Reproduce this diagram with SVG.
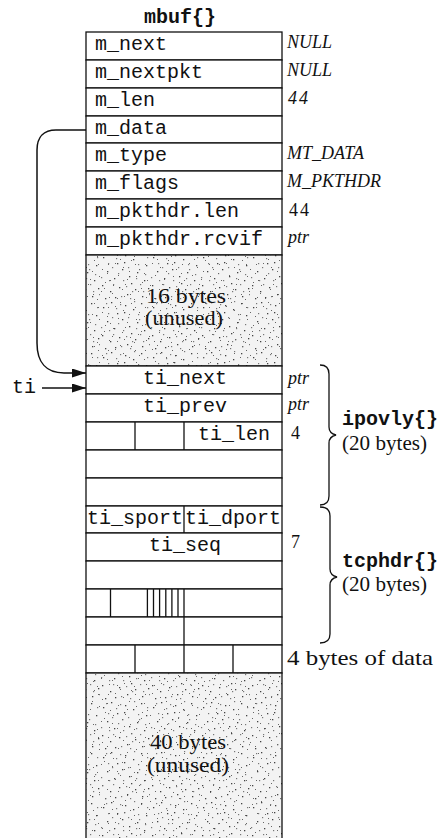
<svg xmlns="http://www.w3.org/2000/svg" width="439" height="838" viewBox="0 0 439 838">
<style>
.cell{fill:#fff;stroke:#111;stroke-width:1.3}
.shade{stroke:#111;stroke-width:1.3}
.ln{stroke:#111;stroke-width:1.3;fill:none}
.mono{font-family:"Liberation Mono","Courier New",monospace;font-size:20px;fill:#111}
.bold{font-weight:bold}
.it{font-family:"Liberation Serif","Times New Roman",serif;font-style:italic;font-size:18px;fill:#111}
.num{font-family:"Liberation Serif","Times New Roman",serif;font-size:18px;fill:#111}
.ser{font-family:"Liberation Serif","Times New Roman",serif;font-size:21px;fill:#111}
.mid{text-anchor:middle}
.conn{stroke:#111;stroke-width:1.5;fill:none}
</style>
<defs>
<pattern id="dotsA" width="50" height="50" patternUnits="userSpaceOnUse">
<g fill="#444">
<rect x="3" y="7" width="1.3" height="1.3"/><rect x="11" y="2" width="1.3" height="1.3"/><rect x="17" y="13" width="1.3" height="1.3"/><rect x="25" y="5" width="1.3" height="1.3"/><rect x="33" y="9" width="1.3" height="1.3"/><rect x="41" y="3" width="1.3" height="1.3"/><rect x="46" y="15" width="1.3" height="1.3"/><rect x="7" y="21" width="1.3" height="1.3"/><rect x="14" y="28" width="1.3" height="1.3"/><rect x="22" y="19" width="1.3" height="1.3"/><rect x="29" y="26" width="1.3" height="1.3"/><rect x="37" y="22" width="1.3" height="1.3"/><rect x="44" y="30" width="1.3" height="1.3"/><rect x="2" y="35" width="1.3" height="1.3"/><rect x="10" y="41" width="1.3" height="1.3"/><rect x="19" y="37" width="1.3" height="1.3"/><rect x="27" y="44" width="1.3" height="1.3"/><rect x="35" y="39" width="1.3" height="1.3"/><rect x="42" y="46" width="1.3" height="1.3"/><rect x="48" y="38" width="1.3" height="1.3"/><rect x="5" y="48" width="1.3" height="1.3"/><rect x="15" y="47" width="1.3" height="1.3"/><rect x="31" y="33" width="1.3" height="1.3"/><rect x="24" y="12" width="1.3" height="1.3"/>
</g>
<g fill="#777">
<rect x="38" y="14" width="1.2" height="1.2"/><rect x="8" y="13" width="1.2" height="1.2"/><rect x="20" y="4" width="1.2" height="1.2"/><rect x="45" y="24" width="1.2" height="1.2"/><rect x="13" y="34" width="1.2" height="1.2"/><rect x="30" y="48" width="1.2" height="1.2"/><rect x="40" y="34" width="1.2" height="1.2"/><rect x="1" y="27" width="1.2" height="1.2"/><rect x="26" y="36" width="1.2" height="1.2"/><rect x="34" y="1" width="1.2" height="1.2"/><rect x="47" y="7" width="1.2" height="1.2"/><rect x="18" y="23" width="1.2" height="1.2"/><rect x="9" y="30" width="1.2" height="1.2"/><rect x="36" y="28" width="1.2" height="1.2"/><rect x="43" y="41" width="1.2" height="1.2"/><rect x="21" y="46" width="1.2" height="1.2"/><rect x="6" y="3" width="1.2" height="1.2"/><rect x="28" y="17" width="1.2" height="1.2"/><rect x="39" y="19" width="1.2" height="1.2"/><rect x="12" y="17" width="1.2" height="1.2"/><rect x="32" y="41" width="1.2" height="1.2"/><rect x="16" y="8" width="1.2" height="1.2"/><rect x="23" y="30" width="1.2" height="1.2"/><rect x="49" y="44" width="1.2" height="1.2"/>
</g>
</pattern>
<pattern id="dotsB" width="37" height="43" patternUnits="userSpaceOnUse">
<g fill="#666">
<rect x="4" y="5" width="1" height="1"/><rect x="12" y="9" width="1" height="1"/><rect x="20" y="2" width="1" height="1"/><rect x="28" y="11" width="1" height="1"/><rect x="34" y="6" width="1" height="1"/><rect x="7" y="17" width="1" height="1"/><rect x="16" y="21" width="1" height="1"/><rect x="25" y="18" width="1" height="1"/><rect x="31" y="24" width="1" height="1"/><rect x="2" y="27" width="1" height="1"/><rect x="11" y="31" width="1" height="1"/><rect x="19" y="36" width="1" height="1"/><rect x="27" y="33" width="1" height="1"/><rect x="35" y="39" width="1" height="1"/><rect x="6" y="40" width="1" height="1"/><rect x="14" y="26" width="1" height="1"/><rect x="23" y="41" width="1" height="1"/><rect x="33" y="15" width="1" height="1"/><rect x="9" y="1" width="1" height="1"/><rect x="30" y="30" width="1" height="1"/><rect x="18" y="13" width="1" height="1"/><rect x="1" y="35" width="1" height="1"/><rect x="24" y="6" width="1" height="1"/><rect x="36" y="22" width="1" height="1"/><rect x="13" y="38" width="1" height="1"/>
</g>
</pattern>
<marker id="ah" markerUnits="userSpaceOnUse" markerWidth="15" markerHeight="10" refX="14" refY="4.5" orient="auto">
<path d="M0,0 L14,4.5 L0,9 z" fill="#111"/>
</marker>
</defs>

<rect width="439" height="838" fill="#fff"/>

<g id="title"><text class="mono bold mid" x="180" y="23">mbuf{}</text></g>

<g id="m_next"><rect class="cell" x="86" y="32" width="196" height="28"/><text class="mono" x="95" y="50">m_next</text><text class="it" x="287" y="48">NULL</text></g>
<g id="m_nextpkt"><rect class="cell" x="86" y="60" width="196" height="28"/><text class="mono" x="95" y="78">m_nextpkt</text><text class="it" x="287" y="76">NULL</text></g>
<g id="m_len"><rect class="cell" x="86" y="88" width="196" height="28"/><text class="mono" x="95" y="106">m_len</text><text class="it" x="288" y="104" letter-spacing="2">44</text></g>
<g id="m_data"><rect class="cell" x="86" y="116" width="196" height="27"/><text class="mono" x="95" y="134">m_data</text></g>
<g id="m_type"><rect class="cell" x="86" y="143" width="196" height="28"/><text class="mono" x="95" y="161">m_type</text><text class="it" x="287" y="159">MT_DATA</text></g>
<g id="m_flags"><rect class="cell" x="86" y="171" width="196" height="28"/><text class="mono" x="95" y="189">m_flags</text><text class="it" x="287" y="187">M_PKTHDR</text></g>
<g id="m_pkthdr_len"><rect class="cell" x="86" y="199" width="196" height="28"/><text class="mono" x="95" y="217">m_pkthdr.len</text><text class="num" x="289" y="216" letter-spacing="2">44</text></g>
<g id="m_pkthdr_rcvif"><rect class="cell" x="86" y="227" width="196" height="28"/><text class="mono" x="95" y="245">m_pkthdr.rcvif</text><text class="it" x="288" y="243">ptr</text></g>

<g id="unused16">
<rect x="86" y="255" width="196" height="111" fill="#f3f3f3"/>
<rect x="86" y="255" width="196" height="111" fill="url(#dotsA)"/>
<rect x="86" y="255" width="196" height="111" fill="url(#dotsB)"/>
<rect class="shade" x="86" y="255" width="196" height="111" fill="none"/>
<text class="ser mid" x="186" y="303" textLength="80" lengthAdjust="spacingAndGlyphs">16 bytes</text>
<text class="ser mid" x="184" y="325" textLength="78" lengthAdjust="spacingAndGlyphs">(unused)</text>
</g>

<g id="ti_next"><rect class="cell" x="86" y="366" width="196" height="28"/><text class="mono mid" x="185" y="384">ti_next</text><text class="it" x="288" y="384">ptr</text></g>
<g id="ti_prev"><rect class="cell" x="86" y="394" width="196" height="28"/><text class="mono mid" x="185" y="412">ti_prev</text><text class="it" x="288" y="410">ptr</text></g>
<g id="ti_len"><rect class="cell" x="86" y="422" width="196" height="28"/><line class="ln" x1="135" y1="422" x2="135" y2="450"/><line class="ln" x1="184" y1="422" x2="184" y2="450"/><text class="mono mid" x="234" y="440">ti_len</text><text class="num" x="291" y="439">4</text></g>
<g id="ip_w3"><rect class="cell" x="86" y="450" width="196" height="28"/></g>
<g id="ip_w4"><rect class="cell" x="86" y="478" width="196" height="28"/></g>
<g id="ti_ports"><rect class="cell" x="86" y="506" width="196" height="27"/><line class="ln" x1="184" y1="506" x2="184" y2="533"/><text class="mono mid" x="135" y="524">ti_sport</text><text class="mono mid" x="233" y="524">ti_dport</text></g>
<g id="ti_seq"><rect class="cell" x="86" y="533" width="196" height="28"/><text class="mono mid" x="185" y="551">ti_seq</text><text class="num" x="291" y="548">7</text></g>
<g id="ti_ack"><rect class="cell" x="86" y="561" width="196" height="28"/></g>
<g id="ti_flags"><rect class="cell" x="86" y="589" width="196" height="28"/>
<line class="ln" x1="110.5" y1="589" x2="110.5" y2="617"/>
<line class="ln" x1="147.4" y1="589" x2="147.4" y2="617"/>
<line class="ln" x1="153.5" y1="589" x2="153.5" y2="617"/>
<line class="ln" x1="159.6" y1="589" x2="159.6" y2="617"/>
<line class="ln" x1="165.8" y1="589" x2="165.8" y2="617"/>
<line class="ln" x1="171.9" y1="589" x2="171.9" y2="617"/>
<line class="ln" x1="178" y1="589" x2="178" y2="617"/>
<line class="ln" x1="184" y1="589" x2="184" y2="617"/>
</g>
<g id="ti_sum"><rect class="cell" x="86" y="617" width="196" height="28"/><line class="ln" x1="184" y1="617" x2="184" y2="645"/></g>
<g id="data4"><rect class="cell" x="86" y="645" width="196" height="28"/><line class="ln" x1="135" y1="645" x2="135" y2="673"/><line class="ln" x1="184" y1="645" x2="184" y2="673"/><line class="ln" x1="233" y1="645" x2="233" y2="673"/><text class="ser" x="287" y="665" textLength="146" lengthAdjust="spacingAndGlyphs">4 bytes of data</text></g>

<g id="unused40">
<rect x="86" y="673" width="196" height="170" fill="#f3f3f3"/>
<rect x="86" y="673" width="196" height="170" fill="url(#dotsA)"/>
<rect x="86" y="673" width="196" height="170" fill="url(#dotsB)"/>
<rect class="shade" x="86" y="673" width="196" height="170" fill="none"/>
<text class="ser mid" x="188" y="749" textLength="76" lengthAdjust="spacingAndGlyphs">40 bytes</text>
<text class="ser mid" x="188" y="772" textLength="82" lengthAdjust="spacingAndGlyphs">(unused)</text>
</g>

<g id="ipovly">
<path class="ln" d="M320 365 C326 365 329 368 329 374 L329 427 C329 432 332 434 336 435 C332 436 329 438 329 443 L329 496 C329 502 326 505 320 505"/>
<text class="mono bold" x="342" y="425">ipovly{}</text>
<text class="ser" x="342" y="450" textLength="85" lengthAdjust="spacingAndGlyphs">(20 bytes)</text>
</g>
<g id="tcphdr">
<path class="ln" d="M320 507 C326 507 330 510 330 516 L330 569 C330 574 333 576 337 577 C333 578 330 580 330 585 L330 634 C330 640 326 643 320 643"/>
<text class="mono bold" x="342" y="567">tcphdr{}</text>
<text class="ser" x="342" y="591" textLength="85" lengthAdjust="spacingAndGlyphs">(20 bytes)</text>
</g>

<g id="ti_label"><text class="mono" x="12" y="393">ti</text></g>

<g id="connectors">
<path class="conn" d="M86 130 L56 130 C44 130 37 137 37 150 L37 343 C37 362 46 373 64 373 L86 373" marker-end="url(#ah)"/>
<path class="conn" d="M42 388 L86 388" marker-end="url(#ah)"/>
</g>
</svg>
